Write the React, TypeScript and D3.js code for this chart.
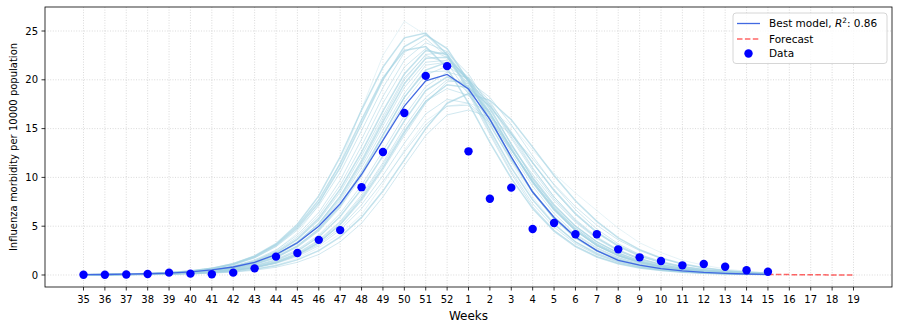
import React from "react";
import * as d3 from "d3";

const weeks: string[] = [
  "35","36","37","38","39","40","41","42","43","44","45","46","47","48","49","50","51","52",
  "1","2","3","4","5","6","7","8","9","10","11","12","13","14","15","16","17","18","19",
];
const yTicks = [0, 5, 10, 15, 20, 25];

const dataValues = [
  0.03,0.03,0.05,0.1,0.24,0.14,0.08,0.24,0.68,1.88,2.25,3.6,4.6,9.0,12.6,16.6,20.4,21.4,
  12.67,7.82,8.95,4.71,5.33,4.17,4.17,2.63,1.81,1.43,0.99,1.13,0.85,0.48,0.34,
];
const bestModel = [
  0.03,0.05,0.08,0.13,0.2,0.32,0.52,0.82,1.3,2.1,3.3,5.0,7.3,10.3,13.8,17.3,19.9,20.55,
  19.05,15.95,12.1,8.5,5.9,3.9,2.5,1.5,1.0,0.66,0.43,0.27,0.17,0.1,0.06,
];
const forecast = [0.06, 0.04, 0.02, 0.01, 0.0];
const forecastStart = 32;

const ens01 = [0.02,0.03,0.05,0.09,0.15,0.26,0.45,0.8,1.4,2.5,4.3,7.2,11.5,17.0,22.5,26.0,24.6,22.5,19.5,15.5,11.5,8.0,5.3,3.4,2.1,1.3,0.8,0.5,0.3,0.18,0.11,0.07,0.04];
const ens02 = [0.02,0.03,0.05,0.08,0.12,0.18,0.27,0.4,0.6,1.0,1.7,2.8,4.2,6.2,9.3,12.8,15.8,17.3,17.6,16.9,15.3,12.8,10.4,8.4,6.6,4.8,3.3,2.3,1.5,1.0,0.62,0.38,0.22];
const ens03 = [0.03,0.04,0.07,0.11,0.18,0.3,0.5,0.85,1.4,2.3,3.7,5.8,8.8,12.6,16.8,20.6,23.0,22.6,19.8,16.0,12.0,8.5,5.8,3.9,2.5,1.6,1.0,0.65,0.42,0.27,0.17,0.11,0.07];
const ens04 = [0.02,0.04,0.06,0.1,0.16,0.26,0.43,0.72,1.2,2.0,3.2,5.0,7.6,11.0,14.8,18.6,21.5,21.8,19.6,16.4,12.8,9.4,6.6,4.5,3.0,1.95,1.25,0.8,0.52,0.33,0.21,0.13,0.08];
const ens05 = [0.03,0.05,0.08,0.13,0.22,0.37,0.62,1.05,1.75,2.9,4.6,7.1,10.5,14.8,19.2,22.8,24.2,22.4,18.8,14.6,10.6,7.3,4.9,3.2,2.05,1.3,0.82,0.52,0.33,0.21,0.13,0.08,0.05];
const ens06 = [0.03,0.05,0.09,0.15,0.25,0.42,0.7,1.15,1.9,3.1,5.0,7.7,11.4,15.9,20.2,23.0,23.4,21.2,17.6,13.6,9.9,6.8,4.5,2.9,1.85,1.15,0.72,0.45,0.28,0.18,0.11,0.07,0.04];
const ens07 = [0.02,0.03,0.05,0.08,0.13,0.21,0.35,0.58,0.95,1.6,2.6,4.1,6.3,9.2,12.7,16.3,19.3,20.8,20.2,17.8,14.5,11.0,8.0,5.6,3.8,2.5,1.6,1.05,0.68,0.44,0.28,0.18,0.11];
const ens08 = [0.02,0.03,0.04,0.07,0.11,0.17,0.28,0.46,0.76,1.25,2.05,3.3,5.1,7.6,10.8,14.3,17.6,19.8,19.9,18.2,15.4,12.2,9.2,6.7,4.7,3.2,2.1,1.4,0.9,0.58,0.37,0.23,0.14];
const ens09 = [0.02,0.02,0.04,0.06,0.09,0.14,0.22,0.36,0.58,0.95,1.55,2.5,3.9,5.9,8.6,11.8,15.0,17.6,18.6,17.9,15.9,13.1,10.2,7.6,5.5,3.8,2.6,1.75,1.15,0.74,0.47,0.3,0.19];
const ens10 = [0.02,0.03,0.05,0.08,0.12,0.19,0.31,0.5,0.82,1.35,2.2,3.5,5.4,8.0,11.3,14.8,17.8,19.1,18.4,16.0,12.8,9.6,6.9,4.8,3.2,2.1,1.35,0.87,0.56,0.36,0.23,0.15,0.09];
const ens11 = [0.02,0.03,0.04,0.07,0.11,0.17,0.27,0.44,0.72,1.18,1.9,3.0,4.6,6.8,9.6,12.6,15.4,17.3,17.4,15.6,12.8,9.8,7.1,5.0,3.4,2.25,1.45,0.93,0.6,0.38,0.24,0.15,0.09];
const ens12 = [0.03,0.05,0.08,0.14,0.24,0.4,0.68,1.15,1.95,3.2,5.2,8.1,12.1,16.9,21.3,24.3,24.8,22.6,19.0,14.9,11.0,7.7,5.2,3.4,2.2,1.4,0.88,0.55,0.35,0.22,0.14,0.09,0.05];
const ens13 = [0.02,0.04,0.06,0.1,0.17,0.28,0.47,0.8,1.33,2.2,3.6,5.6,8.5,12.2,16.3,20.2,22.5,21.7,18.6,14.4,10.4,7.0,4.6,3.0,1.9,1.2,0.75,0.47,0.3,0.19,0.12,0.07,0.05];
const ens14 = [0.02,0.03,0.05,0.09,0.14,0.23,0.38,0.63,1.05,1.75,2.85,4.5,6.9,10.1,13.9,17.7,20.5,21.4,20.0,17.4,14.0,10.7,7.8,5.5,3.8,2.55,1.7,1.1,0.72,0.47,0.3,0.19,0.12];
const ens15 = [0.02,0.03,0.05,0.08,0.13,0.21,0.34,0.56,0.92,1.5,2.45,3.9,6.0,8.8,12.2,15.8,18.9,20.3,19.3,16.6,13.0,9.6,6.8,4.6,3.05,2.0,1.3,0.83,0.53,0.34,0.22,0.14,0.08];
const ens16 = [0.01,0.02,0.03,0.05,0.08,0.12,0.19,0.3,0.48,0.8,1.3,2.1,3.4,5.3,8.0,11.2,14.3,16.4,16.9,16.2,14.4,11.9,9.3,7.0,5.1,3.6,2.5,1.7,1.1,0.72,0.46,0.29,0.18];
const ens17 = [0.02,0.04,0.07,0.12,0.2,0.33,0.55,0.93,1.55,2.55,4.1,6.4,9.7,13.9,18.3,22.0,23.8,22.9,20.0,16.3,12.5,9.1,6.3,4.2,2.8,1.8,1.15,0.73,0.47,0.3,0.19,0.12,0.07];
const ens18 = [0.02,0.03,0.04,0.07,0.11,0.18,0.29,0.47,0.78,1.28,2.1,3.35,5.2,7.8,11.0,14.6,17.8,19.5,19.2,17.3,14.5,11.5,8.7,6.3,4.4,3.0,2.0,1.3,0.85,0.55,0.35,0.22,0.14];
const ens19 = [0.02,0.04,0.06,0.1,0.17,0.28,0.46,0.77,1.28,2.1,3.4,5.3,8.1,11.8,16.0,20.0,22.6,22.8,20.6,17.2,13.4,9.9,7.0,4.8,3.2,2.1,1.35,0.87,0.56,0.36,0.23,0.14,0.09];
const ens20 = [0.02,0.03,0.06,0.09,0.15,0.25,0.41,0.68,1.13,1.87,3.0,4.75,7.3,10.6,14.4,18.2,20.8,20.9,18.6,15.3,11.8,8.6,6.0,4.1,2.7,1.75,1.12,0.71,0.45,0.29,0.18,0.11,0.07];
const ens21 = [0.03,0.05,0.08,0.13,0.22,0.37,0.63,1.07,1.8,3.0,4.8,7.4,11.0,15.5,20.0,23.4,24.6,23.2,19.9,15.9,12.0,8.5,5.8,3.8,2.45,1.55,0.97,0.61,0.38,0.24,0.15,0.09,0.06];
const ens22 = [0.02,0.03,0.04,0.07,0.11,0.17,0.28,0.45,0.74,1.22,2.0,3.15,4.85,7.2,10.2,13.5,16.5,18.0,17.6,15.8,13.2,10.3,7.6,5.4,3.7,2.45,1.6,1.03,0.66,0.42,0.27,0.17,0.1];
const ens23 = [0.02,0.04,0.06,0.1,0.16,0.27,0.44,0.74,1.22,2.0,3.25,5.1,7.8,11.3,15.3,19.2,21.8,22.0,20.3,17.5,14.2,10.9,8.0,5.7,3.9,2.6,1.7,1.1,0.7,0.45,0.29,0.18,0.11];
const ens24 = [0.02,0.03,0.05,0.09,0.15,0.24,0.4,0.66,1.1,1.8,2.95,4.65,7.1,10.4,14.3,18.2,21.0,21.8,20.1,17.0,13.4,10.0,7.2,5.0,3.4,2.25,1.45,0.93,0.6,0.38,0.24,0.15,0.09];
const ens25 = [0.03,0.04,0.07,0.11,0.19,0.31,0.52,0.88,1.47,2.42,3.9,6.1,9.2,13.2,17.6,21.3,23.2,22.3,19.3,15.5,11.7,8.4,5.8,3.9,2.55,1.65,1.05,0.67,0.43,0.27,0.17,0.11,0.07];
const ens26 = [0.02,0.03,0.05,0.07,0.12,0.19,0.31,0.51,0.84,1.38,2.25,3.6,5.5,8.2,11.5,15.1,18.2,20.0,19.6,17.6,14.7,11.5,8.6,6.2,4.3,2.9,1.9,1.25,0.8,0.52,0.33,0.21,0.13];
const ens27 = [0.02,0.04,0.06,0.1,0.17,0.27,0.45,0.76,1.26,2.07,3.35,5.25,8.0,11.6,15.7,19.6,22.2,22.3,20.0,16.6,12.9,9.5,6.7,4.6,3.05,2.0,1.28,0.82,0.52,0.33,0.21,0.13,0.08];

const ensemble = [ens01,ens02,ens03,ens04,ens05,ens06,ens07,ens08,ens09,ens10,ens11,ens12,ens13,ens14,ens15,ens16,ens17,ens18,ens19,ens20,ens21,ens22,ens23,ens24,ens25,ens26,ens27];

const W = 900, H = 330;
const left = 45, right = 892, top = 7, bottom = 287;
const FONT = "DejaVu Sans, sans-serif";

export default function App() {
  const n = weeks.length;
  const x = d3.scaleLinear().domain([-0.05 * (n - 1), (n - 1) * 1.05]).range([left, right]);
  const y = d3.scaleLinear().domain([-1.23, 27.46]).range([bottom, top]);
  const line = d3.line<number>().x((_, i) => x(i)).y((d) => y(d));
  const fline = d3.line<number>().x((_, i) => x(i + forecastStart)).y((d) => y(d));

  return (
    <svg width={W} height={H} style={{ display: "block", position: "absolute", left: 0, top: 0 }} fontFamily={FONT}>
      <rect x={0} y={0} width={W} height={H} fill="#fff" />
      <g stroke="#b0b0b0" strokeOpacity={0.6} strokeWidth={0.8} strokeDasharray="1,1.6">
        {weeks.map((_, i) => (
          <line key={"gx" + i} x1={x(i)} x2={x(i)} y1={top} y2={bottom} />
        ))}
        {yTicks.map((t) => (
          <line key={"gy" + t} x1={left} x2={right} y1={y(t)} y2={y(t)} />
        ))}
      </g>
      <g fill="none" stroke="#a3d2e2">
        {ensemble.map((e, i) => (
          <path
            key={"e" + i}
            d={line(e) || ""}
            strokeWidth={i < 2 ? 0.8 : i % 3 === 2 ? 1.5 : 1.0}
            strokeOpacity={i < 2 ? 0.35 : i % 3 === 2 ? 0.65 : 0.5}
          />
        ))}
      </g>
      <path d={line(bestModel) || ""} fill="none" stroke="#4169e1" strokeWidth={1.3} />
      <path d={fline(forecast) || ""} fill="none" stroke="#ff0000" strokeOpacity={0.6} strokeWidth={1.5} strokeDasharray="5.5,2.4" />
      <g fill="#0000ff">
        {dataValues.map((v, i) => (
          <circle key={"d" + i} cx={x(i)} cy={y(v)} r={4.2} />
        ))}
      </g>
      <rect x={left} y={top} width={right - left} height={bottom - top} fill="none" stroke="#000" strokeWidth={0.8} />
      <g fontSize={10} fill="#000" textAnchor="middle">
        {weeks.map((w, i) => (
          <g key={"xt" + i}>
            <line x1={x(i)} x2={x(i)} y1={bottom} y2={bottom + 3.5} stroke="#000" strokeWidth={0.8} />
            <text x={x(i)} y={bottom + 16}>{w}</text>
          </g>
        ))}
      </g>
      <g fontSize={10} fill="#000" textAnchor="end">
        {yTicks.map((t) => (
          <g key={"yt" + t}>
            <line x1={left - 3.5} x2={left} y1={y(t)} y2={y(t)} stroke="#000" strokeWidth={0.8} />
            <text x={left - 7} y={y(t) + 3.6}>{t}</text>
          </g>
        ))}
      </g>
      <text x={(left + right) / 2} y={320} fontSize={12} textAnchor="middle">Weeks</text>
      <text transform={`translate(17,${(top + bottom) / 2}) rotate(-90)`} fontSize={10} textAnchor="middle">
        Influenza morbidity per 10000 population
      </text>
      <g>
        <rect x={733} y={13} width={154} height={50.5} rx={3} fill="#fff" fillOpacity={0.8} stroke="#cccccc" strokeWidth={0.8} />
        <line x1={737} x2={760} y1={23.5} y2={23.5} stroke="#4169e1" strokeWidth={1.3} />
        <line x1={737} x2={760} y1={39} y2={39} stroke="#ff0000" strokeOpacity={0.6} strokeWidth={1.5} strokeDasharray="5.5,2.4" />
        <circle cx={748.5} cy={53.5} r={4.2} fill="#0000ff" />
        <text x={769} y={27} fontSize={10.5}>
          Best model, <tspan fontStyle="italic">R</tspan>
          <tspan fontSize={7.3} dy={-4}>2</tspan>
          <tspan dy={4}>: 0.86</tspan>
        </text>
        <text x={769} y={42.5} fontSize={10.5}>Forecast</text>
        <text x={769} y={57} fontSize={10.5}>Data</text>
      </g>
    </svg>
  );
}
